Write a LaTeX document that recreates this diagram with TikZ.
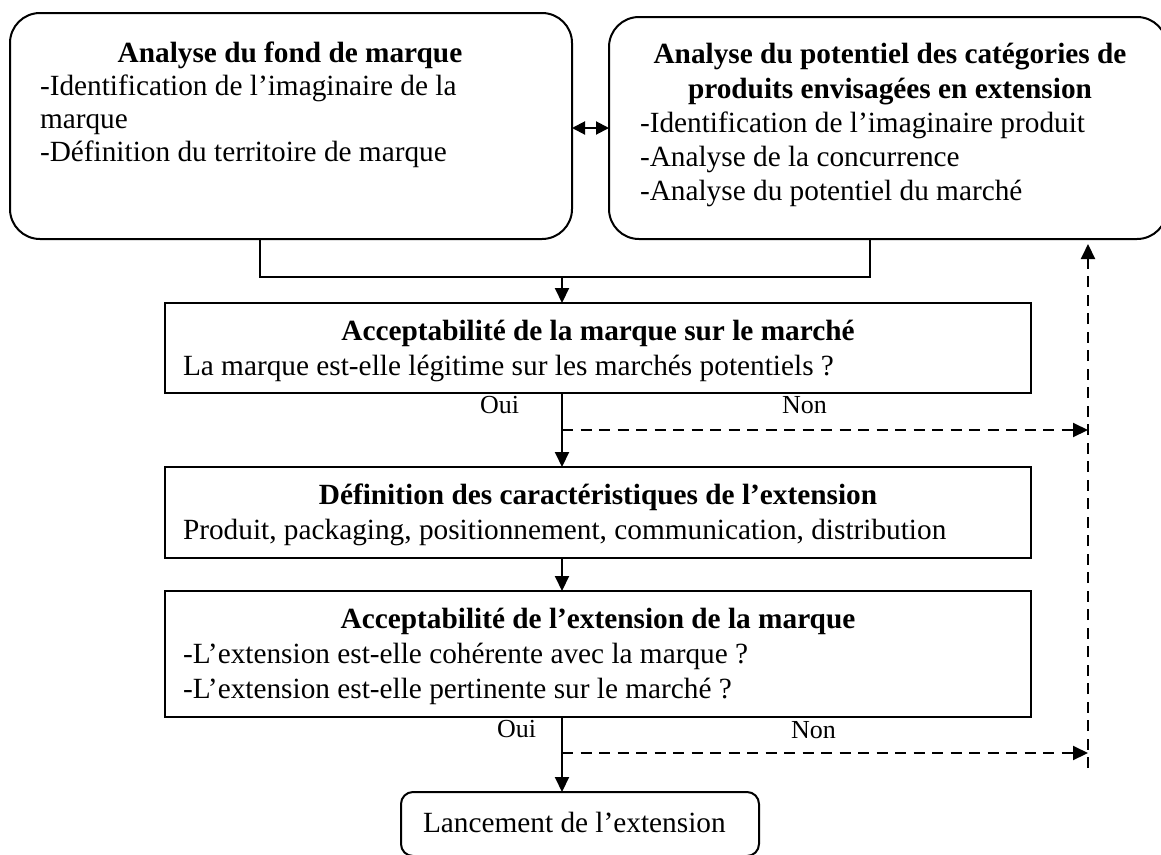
\documentclass[tikz,border=0pt]{standalone}
\usepackage{fontspec}
\setmainfont{Liberation Serif}
\usetikzlibrary{arrows.meta}
\begin{document}
\begin{tikzpicture}[x=1pt,y=-1pt,
  every node/.style={inner sep=0pt, outer sep=0pt},
  bigbox/.style={draw, line width=2pt, rounded corners=30pt},
  stepbox/.style={draw, line width=2pt},
  endbox/.style={draw, line width=2pt, rounded corners=12pt},
  txt/.style={font=\fontsize{29.3}{34}\selectfont, anchor=base west},
  ttl/.style={font=\fontsize{29.3}{34}\selectfont\bfseries, anchor=base},
  lbl/.style={font=\fontsize{26}{30}\selectfont, anchor=base west},
  plain/.style={line width=2pt},
  flow/.style={line width=2pt, -{Triangle[length=15pt,width=14pt]}},
  back/.style={flow, dash pattern=on 11pt off 7.5pt},
  both/.style={line width=2pt, {Triangle[length=13pt,width=13pt]}-{Triangle[length=13pt,width=13pt]}},
]
\useasboundingbox (0,0) rectangle (1161,854);
\clip (0,0) rectangle (1161,854);

% top row: brand analysis and category analysis
\node[bigbox, minimum width=562pt, minimum height=226pt] (fond) at (291,126) {};
\node[bigbox, minimum width=558pt, minimum height=222pt] (pot) at (888,128) {};

\node[ttl] (fondT) at (290,62) {Analyse du fond de marque};
\node[txt] (fondA) at (40,95) {-Identification de l’imaginaire de la};
\node[txt] (fondB) at (40,128) {marque};
\node[txt] (fondC) at (40,161) {-Définition du territoire de marque};

\node[ttl] (potT1) at (890,63) {Analyse du potentiel des catégories de};
\node[ttl] (potT2) at (890,98) {produits envisagées en extension};
\node[txt] (potA) at (640,132) {-Identification de l’imaginaire produit};
\node[txt] (potB) at (640,166) {-Analyse de la concurrence};
\node[txt] (potC) at (640,200) {-Analyse du potentiel du marché};

\draw[both] ([yshift=-2pt]fond.east) -- ([yshift=-2pt]fond.east -| pot.west);

% decision steps
\node[stepbox, minimum width=866pt, minimum height=90pt] (acc) at (598,348) {};
\node[ttl] (accT) at (598,340) {Acceptabilité de la marque sur le marché};
\node[txt] (accA) at (183,375) {La marque est-elle légitime sur les marchés potentiels ?};

\node[stepbox, minimum width=866pt, minimum height=91pt] (def) at (598,512.5) {};
\node[ttl] (defT) at (598,504) {Définition des caractéristiques de l’extension};
\node[txt] (defA) at (183,539) {Produit, packaging, positionnement, communication, distribution};

\node[stepbox, minimum width=866pt, minimum height=126pt] (ext) at (598,654) {};
\node[ttl] (extT) at (598,628) {Acceptabilité de l’extension de la marque};
\node[txt] (extA) at (183,663) {-L’extension est-elle cohérente avec la marque ?};
\node[txt] (extB) at (183,698) {-L’extension est-elle pertinente sur le marché ?};

\node[endbox, minimum width=358pt, minimum height=64pt] (lanc) at (580,824) {};
\node[txt] (lancT) at (423,832) {Lancement de l’extension};

% merging the two analyses
\coordinate (jl) at (260,277);
\coordinate (jr) at (870,277);
\coordinate (jm) at (562,277);
\draw[plain] (jl |- fond.south) -- (jl) -- (jr) -- (jr |- pot.south);
\draw[flow] (jm) -- (jm |- acc.north);

% main flow
\draw[flow] (jm |- acc.south) -- (jm |- def.north);
\draw[flow] (jm |- def.south) -- (jm |- ext.north);
\draw[flow] (jm |- ext.south) -- (jm |- lanc.north);

\node[lbl] (oui1) at (480,413) {Oui};
\node[lbl] (non1) at (782,413) {Non};
\node[lbl] (oui2) at (497,737) {Oui};
\node[lbl] (non2) at (791,738) {Non};

% refusal loops back to the category analysis
\coordinate (n1) at (562,430);
\coordinate (n2) at (562,753);
\coordinate (rv) at (1088,768);
\coordinate (rt) at (1088,244);
\draw[back] (n1) -- (n1 -| rv);
\draw[back] (n2) -- (n2 -| rv);
\draw[back] (rv) -- (rt);
\end{tikzpicture}
\end{document}
